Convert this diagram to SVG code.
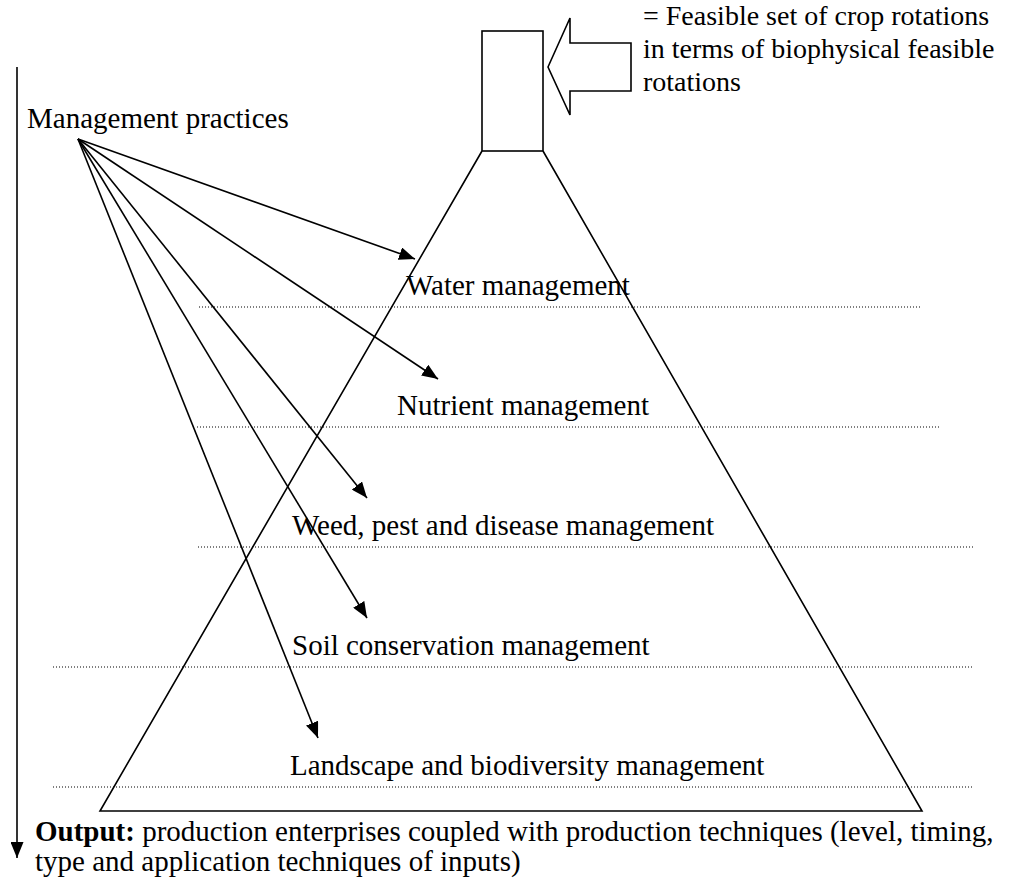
<svg xmlns="http://www.w3.org/2000/svg" width="1015" height="880" viewBox="0 0 1015 880">
  <defs>
    <marker id="ah" markerUnits="userSpaceOnUse" markerWidth="17" markerHeight="13" refX="16" refY="6.5" orient="auto">
      <path d="M0,0 L16,6.5 L0,13 z" fill="#000"/>
    </marker>
    <style>
      text { font-family: "Liberation Serif", "Times New Roman", serif; font-size: 29px; fill: #000; }
      .ln { stroke: #000; stroke-width: 1.6; fill: none; }
      .dot { stroke: #000; stroke-width: 1.2; stroke-dasharray: 1 2; fill: none; }
      .conn { stroke: #000; stroke-width: 1.6; fill: none; marker-end: url(#ah); }
    </style>
  </defs>
  <rect width="1015" height="880" fill="#fff"/>

  <g id="axis">
    <line class="conn" x1="17" y1="67" x2="17" y2="858"/>
  </g>

  <g id="management-practices">
    <text x="27" y="128">Management practices</text>
  </g>

  <g id="feasible-box">
    <rect class="ln" x="482" y="31" width="61" height="120"/>
  </g>

  <g id="block-arrow">
    <polygon class="ln" points="548,67 570,18 570,43 631,43 631,91 570,91 570,115"/>
  </g>

  <g id="feasible-label">
    <text x="643" y="25" style="font-size:28px">= Feasible set of crop rotations</text>
    <text x="643" y="58" style="font-size:28px">in terms of biophysical feasible</text>
    <text x="643" y="91" style="font-size:28px">rotations</text>
  </g>

  <g id="trapezoid">
    <polyline class="ln" points="482,151 100,811 922,811 543,151"/>
  </g>

  <g id="layer-water">
    <line class="dot" x1="199" y1="307" x2="922" y2="307"/>
    <text x="406" y="295">Water management</text>
  </g>
  <g id="layer-nutrient">
    <line class="dot" x1="197" y1="427" x2="941" y2="427"/>
    <text x="397" y="415">Nutrient management</text>
  </g>
  <g id="layer-weed">
    <line class="dot" x1="198" y1="547" x2="973" y2="547"/>
    <text x="292" y="535">Weed, pest and disease management</text>
  </g>
  <g id="layer-soil">
    <line class="dot" x1="53" y1="667" x2="973" y2="667"/>
    <text x="292" y="655">Soil conservation management</text>
  </g>
  <g id="layer-landscape">
    <line class="dot" x1="53" y1="787" x2="973" y2="787"/>
    <text x="290" y="775">Landscape and biodiversity management</text>
  </g>

  <g id="connectors">
    <line class="conn" x1="78" y1="139" x2="415" y2="259"/>
    <line class="conn" x1="78" y1="139" x2="438" y2="379"/>
    <line class="conn" x1="78" y1="139" x2="367" y2="498"/>
    <line class="conn" x1="78" y1="139" x2="367" y2="618"/>
    <line class="conn" x1="78" y1="139" x2="318" y2="738"/>
  </g>

  <g id="output">
    <text x="35" y="841"><tspan font-weight="bold">Output:</tspan> production enterprises coupled with production techniques (level, timing,</text>
    <text x="35" y="871">type and application techniques of inputs)</text>
  </g>
</svg>
